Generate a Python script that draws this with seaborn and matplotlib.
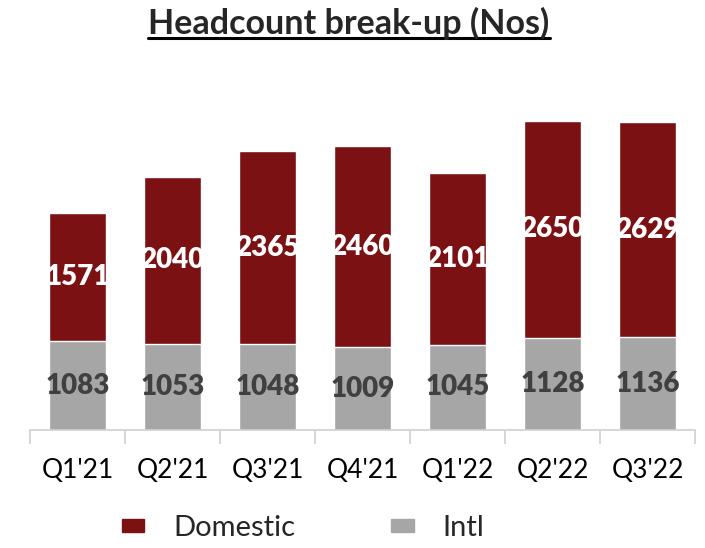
import matplotlib
matplotlib.use("Agg")
import matplotlib.pyplot as plt
import seaborn as sns
import pandas as pd
from matplotlib.lines import Line2D
from matplotlib.ticker import FixedLocator

quarters = ["Q1'21", "Q2'21", "Q3'21", "Q4'21", "Q1'22", "Q2'22", "Q3'22"]
domestic = [1571, 2040, 2365, 2460, 2101, 2650, 2629]
intl = [1083, 1053, 1048, 1009, 1045, 1128, 1136]

dom_color = "#7B1113"
intl_color = "#A6A6A6"

sns.set_style("white")
plt.rcParams["font.family"] = ["Lato", "DejaVu Sans"]

df = pd.DataFrame({"quarter": quarters, "domestic": domestic, "intl": intl})
df["total"] = df["domestic"] + df["intl"]

fig = plt.figure(figsize=(7.05, 5.48), dpi=100)
ax = fig.add_axes([0.0426, 0.2153, 0.9434, 0.597])

sns.barplot(data=df, x="quarter", y="total", color=dom_color, width=0.6,
            saturation=1, ax=ax)
sns.barplot(data=df, x="quarter", y="intl", color=intl_color, width=0.6,
            saturation=1, ax=ax)

for i, row in df.iterrows():
    ax.text(i, row["intl"] + row["domestic"] / 2, f"{row['domestic']}",
            ha="center", va="center", color="white", fontsize=20,
            fontweight="heavy")
    ax.text(i, row["intl"] / 2, f"{row['intl']}", ha="center", va="center",
            color="#404040", fontsize=20, fontweight="heavy")

ax.set_ylim(0, 4000)
ax.set_xlim(-0.5, len(quarters) - 0.5)
ax.set_xlabel("")
ax.set_ylabel("")
ax.set_yticks([])
for s in ["top", "right", "left"]:
    ax.spines[s].set_visible(False)
ax.spines["bottom"].set_color("#D0D0D0")
ax.spines["bottom"].set_linewidth(1.2)

ax.xaxis.set_minor_locator(FixedLocator([i - 0.5 for i in range(len(quarters) + 1)]))
ax.tick_params(axis="x", which="major", bottom=False, length=0, labelsize=19,
               pad=20, labelcolor="black")
ax.tick_params(axis="x", which="minor", bottom=True, length=10, width=1.2,
               color="#D0D0D0", direction="out")

handles = [plt.Rectangle((0, 0), 1, 1, color=dom_color),
           plt.Rectangle((0, 0), 1, 1, color=intl_color)]
fig.legend(handles, ["Domestic", "Intl"], loc="center", ncol=2,
           bbox_to_anchor=(0.43, 0.036), frameon=False, fontsize=21,
           handlelength=0.76, handleheight=0.3, handletextpad=1.0,
           columnspacing=3.3)

title = fig.text(0.495, 0.958, "Headcount break-up (Nos)", ha="center",
                 va="center", fontsize=24.5, fontweight="bold")
fig.canvas.draw()
bb = title.get_window_extent().transformed(fig.transFigure.inverted())
fig.add_artist(Line2D([bb.x0, bb.x1], [bb.y0 + 0.002, bb.y0 + 0.002],
                      color="black", linewidth=2.2, transform=fig.transFigure))

fig.savefig("out.png", dpi=100)
